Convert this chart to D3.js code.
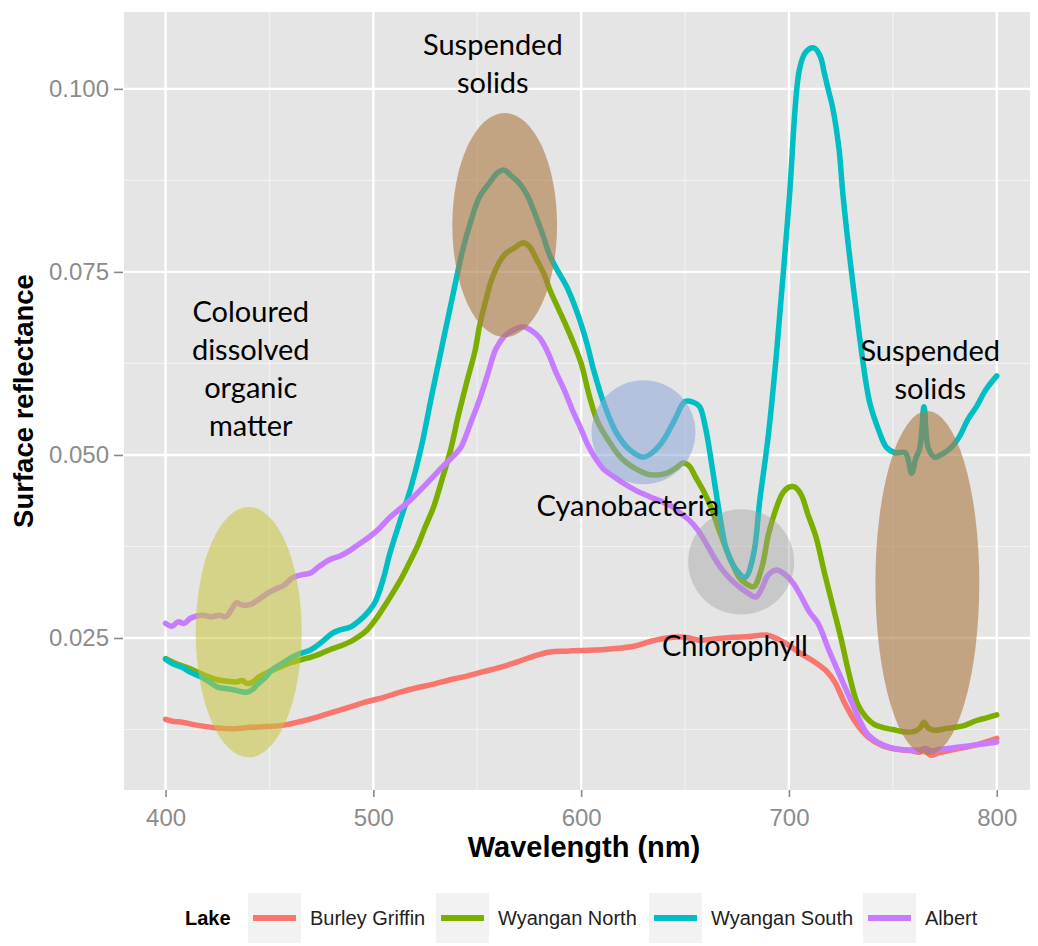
<!DOCTYPE html>
<html>
<head>
<meta charset="utf-8">
<script src="https://cdn.jsdelivr.net/npm/d3@7"></script>
<style>
  html, body { margin: 0; padding: 0; background: #ffffff; }
  svg { display: block; }
</style>
</head>
<body>
<svg id="chart" width="1038" height="946"></svg>
<script>
// Surface reflectance spectra per lake: [wavelength (nm), reflectance]
const burleyGriffin = [
  [400,0.0139],[404,0.0136],[408,0.0135],[415,0.0131],[425,0.0127],[433,0.0126],[441,0.0128],
  [449,0.0129],[457,0.0131],[465,0.0136],[473,0.0142],[481,0.0149],[489,0.0156],[497,0.0163],
  [505,0.0169],[513,0.0176],[521,0.0182],[529,0.0187],[537,0.0193],[545,0.0198],[553,0.0204],
  [561,0.0210],[569,0.0217],[577,0.0225],[585,0.0231],[593,0.0232],[600,0.0233],[610,0.0234],
  [618,0.0236],[626,0.0239],[633,0.0245],[641,0.0250],[650,0.0251],[657,0.0247],[665,0.0249],
  [673,0.0251],[681,0.0252],[689,0.0254],[695,0.0248],[700,0.0240],[705,0.0230],[712,0.0218],
  [718,0.0205],[722,0.0190],[727,0.0160],[732,0.0135],[738,0.0115],[745,0.0103],[752,0.0098],
  [759,0.0096],[763,0.0094],[765,0.0099],[768,0.0090],[772,0.0093],[780,0.0098],[790,0.0104],
  [800,0.0113]
];

const wyanganNorth = [
  [400,0.0222],[405,0.0215],[411,0.0209],[418,0.0200],[425,0.0193],[430,0.0191],[434,0.0190],
  [437,0.0192],[439,0.0188],[442,0.0190],[445,0.0197],[449,0.0203],[454,0.0209],[458,0.0214],
  [461,0.0217],[466,0.0221],[470,0.0224],[475,0.0229],[479,0.0234],[484,0.0239],[489,0.0245],
  [493,0.0252],[497,0.0261],[501,0.0275],[505,0.0292],[509,0.0310],[513,0.0329],[517,0.0351],
  [521,0.0374],[525,0.0402],[529,0.0429],[533,0.0466],[537,0.0505],[541,0.0555],[545,0.0600],
  [549,0.0643],[551,0.0675],[554,0.0710],[557,0.0740],[561,0.0765],[564,0.0776],[568,0.0783],
  [572,0.0790],[575,0.0785],[578,0.0770],[582,0.0748],[585,0.0725],[589,0.0700],[593,0.0675],
  [596,0.0655],[600,0.0625],[604,0.0580],[608,0.0545],[614,0.0516],[618,0.0500],[622,0.0489],
  [627,0.0480],[633,0.0473],[641,0.0475],[646,0.0483],[649,0.0489],[652,0.0485],[655,0.0470],
  [659,0.0450],[663,0.0425],[666,0.0400],[670,0.0370],[673,0.0350],[676,0.0333],[679,0.0325],
  [683,0.0320],[687,0.0347],[690,0.0390],[693,0.0420],[697,0.0448],[700,0.0456],[703,0.0456],
  [706,0.0445],[709,0.0420],[713,0.0388],[717,0.0340],[721,0.0295],[725,0.0250],[729,0.0200],
  [733,0.0160],[737,0.0142],[741,0.0132],[745,0.0128],[750,0.0125],[755,0.0122],[760,0.0122],
  [763,0.0127],[765,0.0135],[767,0.0127],[770,0.0124],[775,0.0126],[780,0.0128],[785,0.0131],
  [790,0.0137],[795,0.0141],[800,0.0145]
];

const wyanganSouth = [
  [400,0.0221],[404,0.0214],[408,0.0210],[412,0.0203],[417,0.0197],[421,0.0190],[425,0.0183],
  [429,0.0181],[433,0.0179],[436,0.0177],[439,0.0176],[442,0.0180],[444,0.0186],[448,0.0196],
  [451,0.0206],[456,0.0215],[461,0.0224],[465,0.0229],[470,0.0234],[475,0.0244],[480,0.0256],
  [484,0.0261],[489,0.0265],[493,0.0273],[497,0.0284],[501,0.0300],[505,0.0333],[508,0.0366],
  [513,0.0411],[518,0.0455],[523,0.0510],[528,0.0580],[533,0.0648],[538,0.0715],[543,0.0780],
  [547,0.0820],[551,0.0852],[556,0.0872],[560,0.0886],[563,0.0889],[566,0.0882],[570,0.0872],
  [574,0.0855],[577,0.0835],[581,0.0805],[585,0.0772],[589,0.0750],[593,0.0730],[598,0.0695],
  [603,0.0650],[606,0.0616],[611,0.0570],[617,0.0530],[623,0.0508],[630,0.0497],[635,0.0505],
  [640,0.0522],[645,0.0548],[650,0.0573],[654,0.0572],[657,0.0566],[660,0.0535],[663,0.0484],
  [666,0.0430],[670,0.0370],[675,0.0342],[679,0.0333],[683,0.0365],[686,0.0439],[690,0.0525],
  [694,0.0639],[700,0.0844],[705,0.1026],[708,0.1050],[712,0.1056],[715,0.1045],[717,0.1022],
  [719,0.0998],[721,0.0975],[724,0.0920],[726,0.0855],[729,0.0776],[734,0.0661],[737,0.0600],
  [739,0.0570],[743,0.0535],[747,0.0510],[751,0.0503],[756,0.0503],[759,0.0475],[761,0.0495],
  [763,0.0510],[765,0.0566],[767,0.0510],[770,0.0497],[773,0.0500],[778,0.0510],[782,0.0525],
  [786,0.0548],[790,0.0565],[795,0.0590],[800,0.0608]
];

const albert = [
  [400,0.0270],[403,0.0266],[406,0.0272],[409,0.0270],[412,0.0277],[415,0.0280],[418,0.0281],
  [422,0.0279],[426,0.0281],[429,0.0279],[432,0.0290],[434,0.0298],[437,0.0295],[441,0.0296],
  [445,0.0303],[449,0.0311],[453,0.0317],[457,0.0322],[461,0.0332],[465,0.0336],[470,0.0339],
  [474,0.0348],[479,0.0357],[484,0.0362],[489,0.0370],[493,0.0378],[498,0.0388],[503,0.0400],
  [508,0.0415],[513,0.0427],[518,0.0439],[524,0.0456],[528,0.0468],[533,0.0483],[538,0.0497],
  [542,0.0510],[547,0.0545],[551,0.0575],[555,0.0610],[559,0.0645],[563,0.0662],[567,0.0670],
  [572,0.0675],[576,0.0670],[580,0.0660],[584,0.0640],[588,0.0612],[592,0.0588],[596,0.0560],
  [600,0.0535],[603,0.0515],[607,0.0495],[611,0.0480],[616,0.0470],[620,0.0462],[626,0.0452],
  [633,0.0443],[639,0.0436],[644,0.0429],[648,0.0420],[652,0.0411],[656,0.0398],[660,0.0380],
  [664,0.0360],[668,0.0343],[672,0.0330],[676,0.0320],[680,0.0312],[684,0.0306],[687,0.0318],
  [690,0.0336],[694,0.0343],[698,0.0337],[702,0.0325],[706,0.0306],[710,0.0285],[714,0.0270],
  [719,0.0235],[724,0.0202],[729,0.0170],[734,0.0138],[738,0.0118],[743,0.0107],[748,0.0101],
  [753,0.0098],[758,0.0097],[763,0.0097],[766,0.0099],[768,0.0096],[773,0.0098],[782,0.0101],
  [790,0.0104],[800,0.0108]
];

const lakeNames = ["Burley Griffin", "Wyangan North", "Wyangan South", "Albert"];
const lakeColors = ["#F8766D", "#7CAE00", "#00BFC4", "#C77CFF"];
const lakeSeries = [burleyGriffin, wyanganNorth, wyanganSouth, albert];

const xTicks = [400, 500, 600, 700, 800];
const xMinor = [450, 550, 650, 750];
const yTicks = [0.025, 0.050, 0.075, 0.100];
const yMinor = [0.0125, 0.0375, 0.0625, 0.0875];

// Highlighted spectral features: centre (nm, reflectance), radii (nm, reflectance)
const featureNames = ["cdom", "solidsGreen", "cyano", "chl", "solidsNir"];
const featureCx = [440, 563.2, 630, 677, 766.6];
const featureCy = [0.0258, 0.0814, 0.0531, 0.0354, 0.0325];
const featureRx = [25.5, 25.2, 25, 25.5, 25];
const featureRy = [0.0171, 0.0153, 0.0071, 0.0072, 0.0235];
const featureFill = ["rgb(200,197,58)", "rgb(172,124,70)", "rgb(140,165,215)", "rgb(160,160,160)", "rgb(172,124,70)"];
const featureOpacity = [0.55, 0.62, 0.55, 0.42, 0.62];

// Feature labels: anchor (nm, reflectance) of first baseline, lines of text
const labelLines = [
  ["Suspended", "solids"],
  ["Coloured", "dissolved", "organic", "matter"],
  ["Cyanobacteria"],
  ["Chlorophyll"],
  ["Suspended", "solids"]
];
const labelX = [557.5, 441, 622.5, 674, 768];
const labelY = [0.1046, 0.0681, 0.0416, 0.0226, 0.0629];

const svg = d3.select("#chart");
const panel = { left: 124, top: 12, right: 1030, bottom: 790 };

const x = d3.scaleLinear().domain([380, 816]).range([panel.left, panel.right]);
const y = d3.scaleLinear().domain([0.00424, 0.1105]).range([panel.bottom, panel.top]);

// Panel background
svg.append("rect")
  .attr("x", panel.left).attr("y", panel.top)
  .attr("width", panel.right - panel.left).attr("height", panel.bottom - panel.top)
  .attr("fill", "#E5E5E5");

const grid = svg.append("g");
grid.selectAll(".xminor").data(xMinor).join("line")
  .attr("x1", d => x(d)).attr("x2", d => x(d))
  .attr("y1", panel.top).attr("y2", panel.bottom)
  .attr("stroke", "#F2F2F2").attr("stroke-width", 1.2);
grid.selectAll(".yminor").data(yMinor).join("line")
  .attr("y1", d => y(d)).attr("y2", d => y(d))
  .attr("x1", panel.left).attr("x2", panel.right)
  .attr("stroke", "#F2F2F2").attr("stroke-width", 1.2);
grid.selectAll(".xmajor").data(xTicks).join("line")
  .attr("x1", d => x(d)).attr("x2", d => x(d))
  .attr("y1", panel.top).attr("y2", panel.bottom)
  .attr("stroke", "#FFFFFF").attr("stroke-width", 2.4);
grid.selectAll(".ymajor").data(yTicks).join("line")
  .attr("y1", d => y(d)).attr("y2", d => y(d))
  .attr("x1", panel.left).attr("x2", panel.right)
  .attr("stroke", "#FFFFFF").attr("stroke-width", 2.4);

// Axes
const xAxis = d3.axisBottom(x).tickValues(xTicks).tickSize(7).tickPadding(6).tickFormat(d3.format("d"));
const yAxis = d3.axisLeft(y).tickValues(yTicks).tickSize(9).tickPadding(5).tickFormat(d3.format(".3f"));

const gx = svg.append("g").attr("transform", `translate(0,${panel.bottom})`).call(xAxis);
const gy = svg.append("g").attr("transform", `translate(${panel.left - 1},0)`).call(yAxis);
[gx, gy].forEach(g => {
  g.select(".domain").remove();
  g.selectAll(".tick line").attr("stroke", "#8A8A8A").attr("stroke-width", 1.6);
  g.selectAll(".tick text")
    .attr("fill", "#8C8C8C")
    .style("font-family", "'Liberation Sans', Arial, sans-serif")
    .style("font-size", "24px");
});
gx.selectAll(".tick text").attr("dy", "0.95em");

svg.append("text")
  .attr("x", 584).attr("y", 857)
  .attr("text-anchor", "middle")
  .style("font-family", "'Liberation Sans', Arial, sans-serif")
  .style("font-weight", "bold").style("font-size", "29px")
  .attr("fill", "#000")
  .text("Wavelength (nm)");

svg.append("text")
  .attr("transform", `translate(33,${(panel.top + panel.bottom) / 2}) rotate(-90)`)
  .attr("text-anchor", "middle")
  .style("font-family", "'Liberation Sans', Arial, sans-serif")
  .style("font-weight", "bold").style("font-size", "27.5px")
  .attr("fill", "#000")
  .text("Surface reflectance");

// Spectra
const line = d3.line()
  .x(d => x(d[0])).y(d => y(d[1]))
  .curve(d3.curveCatmullRom.alpha(0.5));

svg.append("g").selectAll("path").data(lakeSeries).join("path")
  .attr("d", line)
  .attr("fill", "none")
  .attr("stroke", (d, i) => lakeColors[i])
  .attr("stroke-width", 5.5)
  .attr("stroke-linejoin", "round")
  .attr("stroke-linecap", "round");

// Feature ellipses over the spectra
svg.append("g").selectAll("ellipse").data(featureNames).join("ellipse")
  .attr("cx", (d, i) => x(featureCx[i]))
  .attr("cy", (d, i) => y(featureCy[i]))
  .attr("rx", (d, i) => x(featureCx[i] + featureRx[i]) - x(featureCx[i]))
  .attr("ry", (d, i) => y(featureCy[i]) - y(featureCy[i] + featureRy[i]))
  .attr("fill", (d, i) => featureFill[i])
  .attr("fill-opacity", (d, i) => featureOpacity[i]);

// Feature labels
const labels = svg.append("g")
  .style("font-family", "Lato, 'Open Sans', sans-serif")
  .style("font-size", "29px")
  .attr("fill", "#000");
labelLines.forEach((lines, i) => {
  const t = labels.append("text")
    .attr("x", x(labelX[i])).attr("y", y(labelY[i]))
    .attr("text-anchor", "middle");
  lines.forEach((s, j) => {
    t.append("tspan").attr("x", x(labelX[i])).attr("dy", j === 0 ? 0 : 38).text(s);
  });
});

// Legend
const legend = svg.append("g").attr("transform", "translate(0,918)");
legend.append("text")
  .attr("x", 185).attr("y", 0).attr("dy", "0.35em")
  .style("font-family", "'Liberation Sans', Arial, sans-serif")
  .style("font-weight", "bold").style("font-size", "20px")
  .text("Lake");
const keyX = [248, 436, 649, 863];
const items = legend.selectAll(".item").data(lakeNames).join("g")
  .attr("transform", (d, i) => `translate(${keyX[i]},0)`);
items.append("rect")
  .attr("x", 0).attr("y", -25).attr("width", 53).attr("height", 50)
  .attr("fill", "#F2F2F2");
items.append("line")
  .attr("x1", 5).attr("x2", 48).attr("y1", 0).attr("y2", 0)
  .attr("stroke", (d, i) => lakeColors[i]).attr("stroke-width", 6);
items.append("text")
  .attr("x", 62).attr("y", 0).attr("dy", "0.35em")
  .style("font-family", "'Liberation Sans', Arial, sans-serif")
  .style("font-size", "20px")
  .attr("fill", "#222")
  .text(d => d);
</script>
</body>
</html>
